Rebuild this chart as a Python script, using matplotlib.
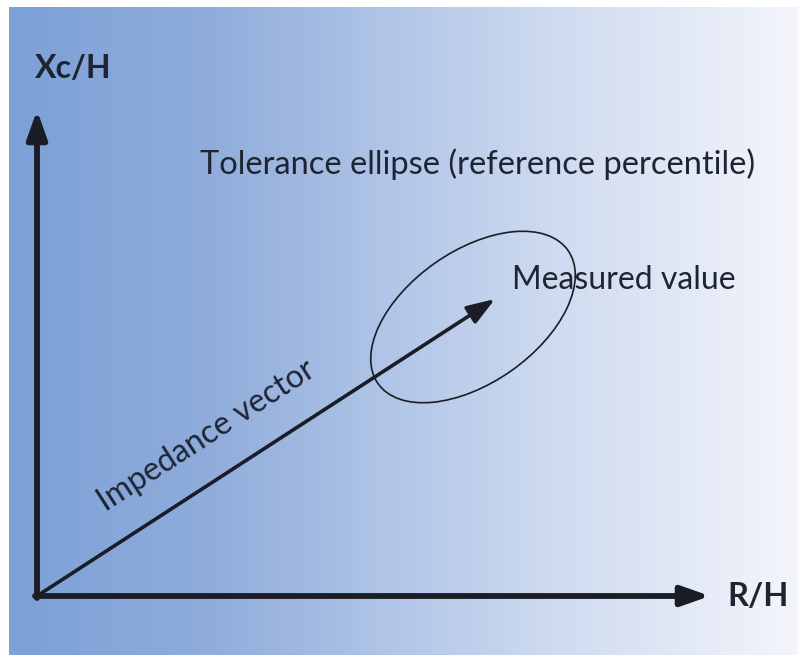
import numpy as np
import matplotlib.pyplot as plt
from matplotlib.colors import LinearSegmentedColormap
from matplotlib.patches import Ellipse

# diagram geometry (data units, origin of the impedance plane at 0,0)
axis_ends = [673, 486]            # R/H tip, Xc/H tip
vector_tip = [458, 297]
ellipse_center = [436, 279]
ellipse_size = [232, 132]         # width, height
ellipse_angle = 35

# background gradient colours sampled left -> right
grad_colors = ["#7ca1d7", "#8facdb", "#b3c7e8", "#d6e0f2", "#f3f5fa"]

labels = {
    "x": "R/H",
    "y": "Xc/H",
    "ellipse": "Tolerance ellipse (reference percentile)",
    "point": "Measured value",
    "vector": "Impedance vector",
}

ink = "#1b1d26"
txt = "#1f2433"
plt.rcParams['font.family'] = ['Lato', 'DejaVu Sans']

fig = plt.figure(figsize=(7.98, 6.55), dpi=100)
ax = fig.add_axes([0, 0, 1, 1])
ax.set_xlim(-37, 761)
ax.set_ylim(-59, 596)
ax.axis("off")

cmap = LinearSegmentedColormap.from_list("bg", grad_colors)
grad = np.linspace(0, 1, 256).reshape(1, -1)
ax.imshow(grad, cmap=cmap, extent=[-28, 761, -59, 589], aspect="auto", zorder=0)

head = "-|>,head_length=1.7,head_width=0.6"
ax.annotate("", xy=(axis_ends[0], 0), xytext=(-2, 0),
            arrowprops=dict(arrowstyle=head, lw=4.2, color=ink, mutation_scale=10,
                            shrinkA=0, shrinkB=0))
ax.annotate("", xy=(0, axis_ends[1]), xytext=(0, -2),
            arrowprops=dict(arrowstyle=head, lw=4.2, color=ink, mutation_scale=10,
                            shrinkA=0, shrinkB=0))
ax.annotate("", xy=vector_tip, xytext=(0, 0),
            arrowprops=dict(arrowstyle=head, lw=2.6, color=ink, mutation_scale=10,
                            shrinkA=0, shrinkB=0))

ax.add_patch(Ellipse(ellipse_center, ellipse_size[0], ellipse_size[1],
                     angle=ellipse_angle, fill=False, lw=1.2, ec=ink, zorder=3))

ax.text(-2, 528, labels["y"], fontsize=23, fontweight="bold", color=txt,
        ha="left", va="center")
ax.text(690, 0, labels["x"], fontsize=23.5, fontweight="bold", color=txt,
        ha="left", va="center")
ax.text(163, 432, labels["ellipse"], fontsize=23.5, color=txt, ha="left", va="center")
ax.text(475, 316, labels["point"], fontsize=23, color=txt, ha="left", va="center")
ang = np.degrees(np.arctan2(vector_tip[1], vector_tip[0]))
ax.text(170, 160, labels["vector"], fontsize=23, color=txt, ha="center", va="center",
        rotation=ang, rotation_mode="anchor")

fig.savefig("out.png", dpi=100)
